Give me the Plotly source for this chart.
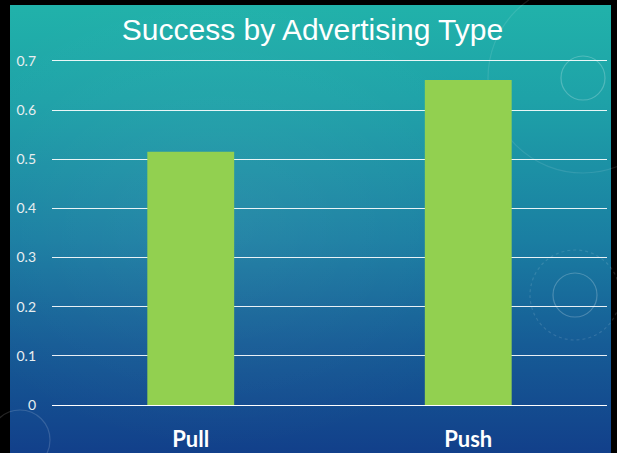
import base64
import plotly.graph_objects as go

categories = ["Pull", "Push"]
success = [0.515, 0.661]
y_ticks = [0, 0.1, 0.2, 0.3, 0.4, 0.5, 0.6, 0.7]
y_tick_labels = ["0", "0.1", "0.2", "0.3", "0.4", "0.5", "0.6", "0.7"]

W, H = 617, 453
L, R, T, B = 52, 10, 56, 48
pw = W - L - R
ph = H - T - B

def px_to_paper_x(px):
    return (px - L) / pw

def px_to_paper_y(py):
    return (H - B - py) / ph

left_px, right_px, top_px, bot_px = 10, 611, 5, 475

svg = f"""<svg xmlns='http://www.w3.org/2000/svg' width='{right_px-left_px}' height='{bot_px-top_px}' preserveAspectRatio='none'>
<defs><linearGradient id='g' x1='0' y1='0' x2='0' y2='1'>
<stop offset='0' stop-color='rgb(33,178,170)'/>
<stop offset='0.2' stop-color='rgb(30,162,168)'/>
<stop offset='0.5' stop-color='rgb(26,126,162)'/>
<stop offset='0.72' stop-color='rgb(22,92,150)'/>
<stop offset='1' stop-color='rgb(17,58,136)'/>
</linearGradient>
<radialGradient id='r' cx='0.35' cy='0.45' r='0.5'>
<stop offset='0' stop-color='rgba(255,255,255,0.06)'/>
<stop offset='1' stop-color='rgba(255,255,255,0)'/>
</radialGradient></defs>
<rect width='100%' height='100%' fill='url(#g)'/>
<rect width='100%' height='100%' fill='url(#r)'/>
</svg>"""
svg_uri = "data:image/svg+xml;base64," + base64.b64encode(svg.encode()).decode()

images = [dict(source=svg_uri, xref="paper", yref="paper",
               x=px_to_paper_x(left_px), y=px_to_paper_y(top_px),
               sizex=(right_px - left_px) / pw, sizey=(bot_px - top_px) / ph,
               xanchor="left", yanchor="top", sizing="stretch", layer="below")]

def circle(cx, cy, r, alpha=0.22, dash="solid"):
    return dict(type="circle", xref="paper", yref="paper", layer="below",
                x0=px_to_paper_x(cx - r), x1=px_to_paper_x(cx + r),
                y0=px_to_paper_y(cy + r), y1=px_to_paper_y(cy - r),
                line=dict(color=f"rgba(255,255,255,{alpha})", width=1.2, dash=dash))

shapes = [circle(583, 78, 22), circle(583, 78, 95, 0.1), circle(575, 295, 22),
          circle(575, 295, 45, 0.12, "dot"), circle(20, 440, 30, 0.15)]

fig = go.Figure(go.Bar(x=categories, y=success, marker=dict(color="#92D050", line=dict(width=0)),
                       width=0.313, hoverinfo="skip"))

fig.update_layout(
    width=W, height=H,
    margin=dict(l=L, r=R, t=T, b=B, autoexpand=False),
    paper_bgcolor="black",
    plot_bgcolor="rgba(0,0,0,0)",
    images=images,
    shapes=shapes,
    showlegend=False,
    title=dict(text="Success by Advertising Type", x=312.5 / W, xanchor="center",
               y=1 - 29 / H, yanchor="middle", automargin=False,
               font=dict(family="Liberation Sans, Arial", size=30, color="white")),
    xaxis=dict(showgrid=False, showline=False, ticks="", ticklabelstandoff=19, automargin=False,
               tickfont=dict(family="Lato, Open Sans", size=22, color="white", weight="bold")),
    yaxis=dict(range=[0, 0.71], tickvals=y_ticks, ticktext=y_tick_labels, automargin=False,
               showgrid=True, gridcolor="rgba(255,255,255,0.9)", gridwidth=1.3,
               zeroline=True, zerolinecolor="white", zerolinewidth=1.3,
               showline=False, ticks="", ticklabelstandoff=15,
               tickfont=dict(family="Lato, Open Sans", size=14, color="#e8eef0")),
)

fig.write_html("out.html", config={"displayModeBar": False},
               post_script="document.body.style.margin='0';document.body.style.padding='0';")
